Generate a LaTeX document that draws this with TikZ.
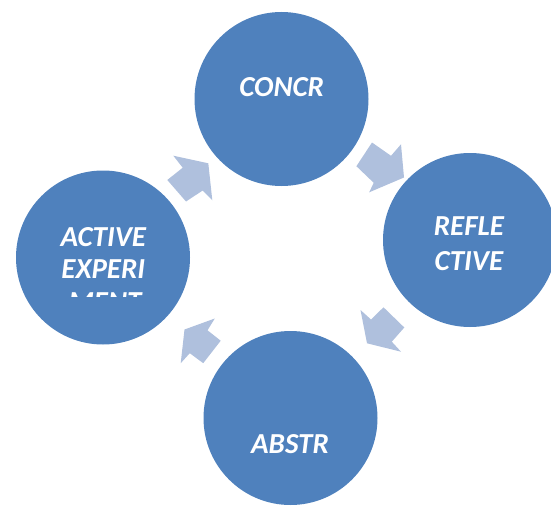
\documentclass[tikz,border=0pt]{standalone}
\usepackage{fontspec}
\setmainfont{Carlito}
\definecolor{circblue}{HTML}{4F81BD}
\definecolor{arrblue}{HTML}{AFC0DD}
\begin{document}
\begin{tikzpicture}[x=1pt,y=-1pt,
  stage/.style={circle,fill=circblue,draw=none,minimum size=174pt,inner sep=0pt},
  lbl/.style={text=white,font=\fontsize{29}{33}\selectfont\bfseries\itshape,anchor=base,inner sep=0pt},
  cyclearrow/.style={fill=arrblue,draw=none}]
\useasboundingbox (0,0) rectangle (551,508);
% stages
\node[stage] (top) at (281.5,99) {};
\node[stage] (right) at (470,240) {};
\node[stage] (bottom) at (290.5,418) {};
\node[stage] (left) at (103,257.5) {};
% labels
\node[lbl] (tA) at (281.7,96.7) {CONCR};
\node[lbl] (rA) at (469,235) {REFLE};
\node[lbl] (rB) at (469,270) {CTIVE};
\node[lbl] (bA) at (290,453.3) {ABSTR};
\node[lbl] (lA) at (103.3,246.7) {ACTIVE};
\node[lbl] (lB) at (103.3,278.8) {EXPERI};
\begin{scope}
\clip (30,280) rectangle (180,296.3);
\node[lbl] (lC) at (105,311.5) {MENT};
\end{scope}
% block arrows
\fill[cyclearrow] (208.3,163.3) -- (173.3,155.7) -- (182.7,167.7) -- (167.3,180) -- (186,201.5) -- (202.7,190.5) -- (212.3,200.3) -- cycle;
\fill[cyclearrow] (404,177.5) -- (401,144.3) -- (391,155.8) -- (372,142.5) -- (356.4,166.2) -- (373.7,182.8) -- (369.2,192.3) -- cycle;
\fill[cyclearrow] (367,343.3) -- (360.5,310) -- (371,319.5) -- (383.5,307.3) -- (404.3,327.5) -- (391.8,341.7) -- (401,351.7) -- cycle;
\fill[cyclearrow] (184.5,329.5) -- (214.8,318.5) -- (207.5,330.3) -- (220.7,340.7) -- (203.2,363.2) -- (189.8,353.2) -- (180.7,363.2) -- cycle;
\end{tikzpicture}
\end{document}
